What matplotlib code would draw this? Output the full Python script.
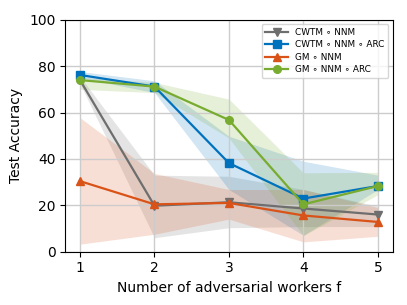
import numpy as np
import matplotlib.pyplot as plt

f_values = [1, 2, 3, 4, 5]

cwtm_mean = [74.0, 19.8, 21.3, 18.6, 16.0]
cwtm_low = [72.5, 6.0, 10.3, 10.8, 10.8]
cwtm_high = [75.5, 33.0, 32.5, 26.8, 19.6]

cwtm_arc_mean = [76.2, 71.2, 38.2, 22.9, 28.3]
cwtm_arc_low = [75.0, 68.6, 26.8, 7.0, 26.8]
cwtm_arc_high = [77.7, 73.7, 49.8, 39.0, 33.0]

gm_mean = [30.4, 20.4, 21.0, 15.6, 12.8]
gm_low = [3.2, 7.5, 14.0, 4.2, 6.6]
gm_high = [57.8, 33.7, 26.8, 26.8, 19.0]

gm_arc_mean = [74.0, 71.2, 56.8, 20.4, 28.3]
gm_arc_low = [70.0, 68.6, 49.0, 6.9, 24.6]
gm_arc_high = [75.2, 73.0, 65.8, 34.0, 34.2]

series = [
    ('CWTM \u2218 NNM', cwtm_mean, cwtm_low, cwtm_high, '#6e6e6e', 'v'),
    ('CWTM \u2218 NNM \u2218 ARC', cwtm_arc_mean, cwtm_arc_low, cwtm_arc_high, '#0072BD', 's'),
    ('GM \u2218 NNM', gm_mean, gm_low, gm_high, '#D95319', '^'),
    ('GM \u2218 NNM \u2218 ARC', gm_arc_mean, gm_arc_low, gm_arc_high, '#77AC30', 'o'),
]

fig, ax = plt.subplots(figsize=(4.07, 3.05), dpi=100)

for label, mean, low, high, color, marker in series:
    ax.plot(f_values, mean, color=color, marker=marker, markersize=5.5, linewidth=1.6, label=label)
    ax.fill_between(f_values, low, high, color=color, alpha=0.18, linewidth=0)

ax.set_ylim(0, 100)
ax.set_xticks(f_values)
ax.set_xlabel('Number of adversarial workers f', fontsize=10)
ax.set_ylabel('Test Accuracy', fontsize=10)
ax.tick_params(labelsize=10)
ax.grid(True, color='#cccccc', linewidth=1)
ax.legend(fontsize=6.4, loc='upper right', labelspacing=0.4, handlelength=2.6)

plt.subplots_adjust(left=0.16, right=0.965, top=0.935, bottom=0.175)
plt.savefig('out.png')
